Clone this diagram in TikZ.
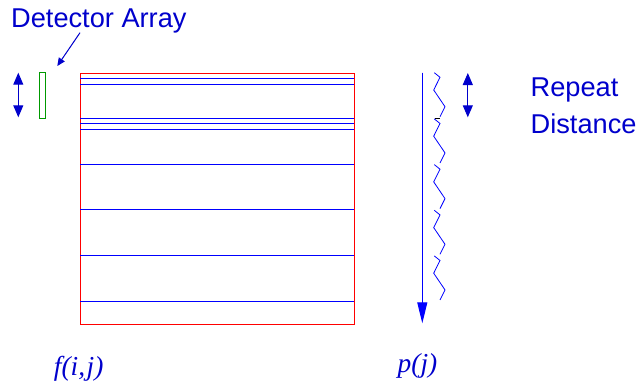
\documentclass[tikz,border=0pt]{standalone}
\usepackage{fontspec}
\setmainfont{Liberation Sans}
\newfontfamily\serifit{Liberation Serif}
\usetikzlibrary{arrows.meta}
\definecolor{txtblue}{RGB}{0,0,204}
\definecolor{lineblue}{RGB}{0,0,255}
\definecolor{boxred}{RGB}{255,0,0}
\definecolor{detgreen}{RGB}{0,153,0}
\begin{document}
\begin{tikzpicture}[x=1bp,y=-1bp,
  lbl/.style={text=txtblue,inner sep=0pt,font=\fontsize{27.3}{32}\selectfont},
  mathlbl/.style={text=txtblue,inner sep=0pt,font=\serifit\itshape\fontsize{27.5}{32}\selectfont},
  stripe/.style={draw=lineblue,line width=1bp},
  darrow/.style={draw=txtblue,line width=1bp,{Triangle[length=12bp,width=10bp]}-{Triangle[length=12bp,width=10bp]}},
  bigarrow/.style={draw=lineblue,line width=1bp,-{Triangle[length=21bp,width=10bp]}},
  wiggle/.style={draw=lineblue,line width=0.8bp,line join=miter}
]
\useasboundingbox (0,0) rectangle (639,385);
% labels
\node[lbl,anchor=base west] (det) at (11,27.3) {Detector Array};
\node[lbl,anchor=base west] (rep) at (530.5,96) {Repeat};
\node[lbl,anchor=base west] (dist) at (530.5,133) {Distance};
\node[mathlbl,anchor=base] (f) at (78.7,375.5) {f(i,\kern1.5bp j)};
\node[mathlbl,anchor=base] (p) at (417.5,372) {p(j)};
% detector
\node[draw=detgreen,line width=1bp,minimum width=6.3bp,minimum height=46bp,inner sep=0pt] (detbox) at (42.8,95) {};
\coordinate (ptail) at (80,32.7);
\coordinate (ptip) at (57.3,66);
\draw[draw=txtblue,line width=1bp,-{Triangle[length=8bp,width=7bp]},fill=txtblue] (ptail) -- (ptip);
% left double arrow
\coordinate (la1) at (18.3,72.7);
\coordinate (la2) at (18.3,117.3);
\draw[darrow,fill=txtblue] (la1) -- (la2);
% matrix
\node[draw=boxred,line width=1bp,minimum width=274bp,minimum height=251bp,inner sep=0pt,anchor=north west] (mat) at (80,72.5) {};
\foreach \y in {78.3,84,118.3,123.7,129.7,164,209.7,255.3,301}
  \draw[stripe] (80,\y) -- (354,\y);
% projection arrow
\coordinate (pa1) at (422.3,72.7);
\coordinate (pa2) at (422.3,323.3);
\draw[bigarrow,fill=lineblue] (pa1) -- (pa2);
% wiggle
\foreach \y in {72.7,118.9,164.6,210.3,255.9}
  \draw[wiggle] (434.3,\y) -- (440,\y+4.6) -- (433.7,\y+17.3) -- (445,\y+34) -- (440,\y+44);
\draw[black,line width=0.7bp] (435,118.3) -- (440,118.3);
% repeat distance arrow
\coordinate (ra1) at (467.8,73);
\coordinate (ra2) at (467.8,117.3);
\draw[darrow,fill=txtblue] (ra1) -- (ra2);
\end{tikzpicture}
\end{document}
